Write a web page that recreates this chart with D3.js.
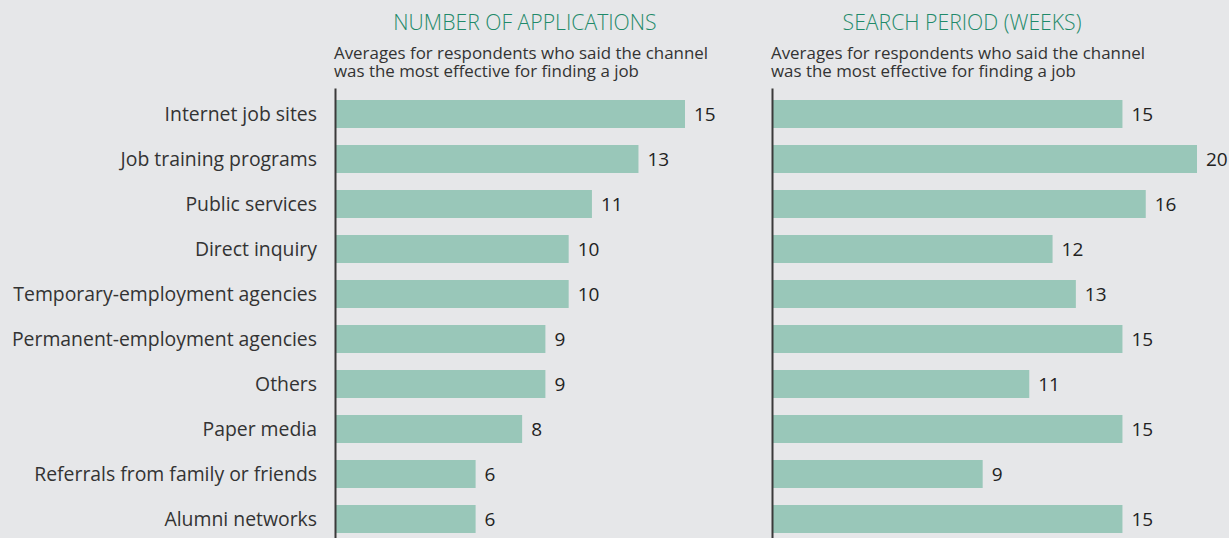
<!DOCTYPE html>
<html>
<head>
<meta charset="utf-8">
<script src="https://cdn.jsdelivr.net/npm/d3@7"></script>
<style>
  html, body { margin: 0; padding: 0; background: #e6e7e9; }
  svg { display: block; }
  text { font-family: "Open Sans", "Noto Sans", sans-serif; }
</style>
</head>
<body>
<svg id="chart" width="1229" height="538"></svg>
<script>
const categories = [
  "Internet job sites",
  "Job training programs",
  "Public services",
  "Direct inquiry",
  "Temporary-employment agencies",
  "Permanent-employment agencies",
  "Others",
  "Paper media",
  "Referrals from family or friends",
  "Alumni networks"
];
const applications = [15, 13, 11, 10, 10, 9, 9, 8, 6, 6];
const searchWeeks = [15, 20, 16, 12, 13, 15, 11, 15, 9, 15];
const panelTitles = ["NUMBER OF APPLICATIONS", "SEARCH PERIOD (WEEKS)"];
const subtitleLines = [
  "Averages for respondents who said the channel",
  "was the most effective for finding a job"
];

const W = 1229, H = 538;
const svg = d3.select("#chart");
svg.append("rect").attr("width", W).attr("height", H).attr("fill", "#e6e7e9");

const y = d3.scaleBand()
  .domain(categories)
  .range([91.5, 541.5])
  .paddingInner(0.378)
  .paddingOuter(0.189);

// category labels
svg.append("g").selectAll("text")
  .data(categories)
  .join("text")
  .attr("x", 317)
  .attr("y", d => y(d) + y.bandwidth() / 2)
  .attr("dy", "0.35em")
  .attr("text-anchor", "end")
  .attr("font-size", 19.4)
  .attr("fill", "#333")
  .text(d => d);

const panels = [
  { values: applications, axisX: 335, x: d3.scaleLinear().domain([0, 15]).range([336, 685]).clamp(true) },
  { values: searchWeeks, axisX: 772, x: d3.scaleLinear().domain([0, 18.2]).range([773, 1197]).clamp(true) }
];

panels.forEach((p, pi) => {
  const g = svg.append("g");
  const cx = p.axisX + 190;
  g.append("text")
    .attr("x", cx).attr("y", 30)
    .attr("text-anchor", "middle")
    .attr("font-size", 21.2)
    .attr("font-weight", 300)
    .attr("fill", "#1f8a6a")
    .text(panelTitles[pi]);
  g.append("text")
    .attr("x", p.axisX - 1)
    .attr("y", 59)
    .attr("font-size", 16.9)
    .attr("fill", "#333")
    .selectAll("tspan")
    .data(subtitleLines)
    .join("tspan")
    .attr("x", p.axisX - 1)
    .attr("dy", (d, i) => i === 0 ? 0 : 17.8)
    .text(d => d);

  g.append("g").selectAll("rect")
    .data(p.values)
    .join("rect")
    .attr("x", p.x(0))
    .attr("y", (d, i) => y(categories[i]))
    .attr("width", d => p.x(d) - p.x(0))
    .attr("height", y.bandwidth())
    .attr("fill", "#99c7b9");

  g.append("g").selectAll("text")
    .data(p.values)
    .join("text")
    .attr("x", d => p.x(d) + 9)
    .attr("y", (d, i) => y(categories[i]) + y.bandwidth() / 2)
    .attr("dy", "0.35em")
    .attr("font-size", 19)
    .attr("fill", "#222")
    .text(d => d);

  const axis = d3.axisLeft(d3.scaleLinear().range([88, 538])).ticks(0).tickSize(0).tickFormat("");
  const ag = g.append("g").attr("transform", `translate(${p.axisX},0)`).call(axis);
  ag.select(".domain").attr("stroke", "#3a3a3a").attr("stroke-width", 2);
});
</script>
</body>
</html>
